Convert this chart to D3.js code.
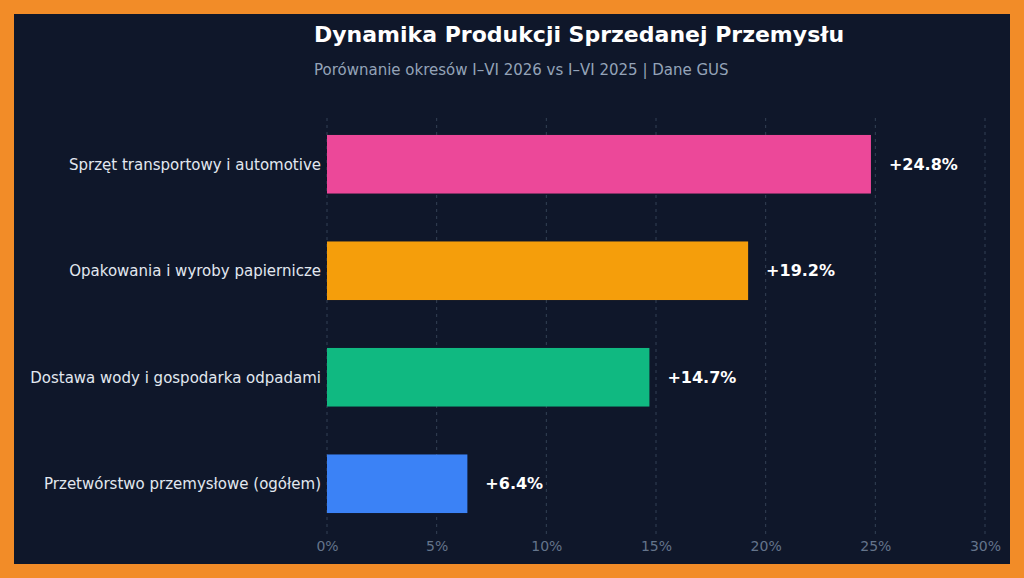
<!DOCTYPE html>
<html>
<head>
<meta charset="utf-8">
<script src="https://cdn.jsdelivr.net/npm/d3@7"></script>
<style>
body { margin: 0; background: #f28c28; }
</style>
</head>
<body>
<script>
var categories = ["Sprzęt transportowy i automotive", "Opakowania i wyroby papiernicze", "Dostawa wody i gospodarka odpadami", "Przetwórstwo przemysłowe (ogółem)"];
var values = [24.8, 19.2, 14.7, 6.4];
var colors = ["#ec4899", "#f59e0b", "#10b981", "#3b82f6"];
var ticks = [0, 5, 10, 15, 20, 25, 30];

var w = 1024, h = 578;
var svg = d3.select("body").append("svg").attr("width", w).attr("height", h);

// frame
svg.append("rect").attr("width", w).attr("height", h).attr("fill", "#f28c28");
svg.append("rect").attr("x", 14).attr("y", 14).attr("width", w - 28).attr("height", h - 28).attr("fill", "#0f172a");

var x = d3.scaleLinear().domain([0, 30]).range([327, 985]);
var y = d3.scaleBand().domain(categories).range([111, 537]).paddingInner(0.45).paddingOuter(0.225);

// grid
svg.selectAll(".grid").data(ticks).enter().append("line")
    .attr("x1", d => x(d)).attr("x2", d => x(d))
    .attr("y1", 118).attr("y2", 535)
    .attr("stroke", "#334155").attr("stroke-dasharray", "3,4").attr("stroke-width", 1);

// bars
svg.selectAll(".bar").data(values).enter().append("rect")
    .attr("x", x(0))
    .attr("y", (d, i) => y(categories[i]))
    .attr("width", d => x(d) - x(0))
    .attr("height", y.bandwidth())
    .attr("fill", (d, i) => colors[i]);

svg.selectAll(".val").data(values).enter().append("text")
    .attr("x", d => x(d) + 18)
    .attr("y", (d, i) => y(categories[i]) + y.bandwidth() / 2)
    .attr("dy", "0.35em")
    .attr("fill", "#ffffff").attr("font-family", "DejaVu Sans").attr("font-weight", "bold").attr("font-size", 16)
    .text(d => "+" + d.toFixed(1) + "%");

// y axis labels
svg.selectAll(".cat").data(categories).enter().append("text")
    .attr("x", 321)
    .attr("y", d => y(d) + y.bandwidth() / 2)
    .attr("dy", "0.35em")
    .attr("text-anchor", "end")
    .attr("fill", "#e2e8f0").attr("font-family", "DejaVu Sans").attr("font-size", 15)
    .text(d => d);

// x axis
var xAxis = d3.axisBottom(x).tickValues(ticks).tickFormat(d => d + "%").tickSize(0).tickPadding(0);
var gx = svg.append("g").attr("transform", "translate(0,541)").call(xAxis);
gx.select(".domain").remove();
gx.selectAll("text").attr("fill", "#64748b").attr("font-family", "DejaVu Sans").attr("font-size", 14).attr("dy", "0.71em");

// titles
svg.append("text").attr("x", 314).attr("y", 42)
    .attr("fill", "#ffffff").attr("font-family", "DejaVu Sans").attr("font-weight", "bold").attr("font-size", 22)
    .text("Dynamika Produkcji Sprzedanej Przemysłu");
svg.append("text").attr("x", 314).attr("y", 75)
    .attr("fill", "#94a3b8").attr("font-family", "DejaVu Sans").attr("font-size", 15)
    .text("Porównanie okresów I–VI 2026 vs I–VI 2025 | Dane GUS");
</script>
</body>
</html>
